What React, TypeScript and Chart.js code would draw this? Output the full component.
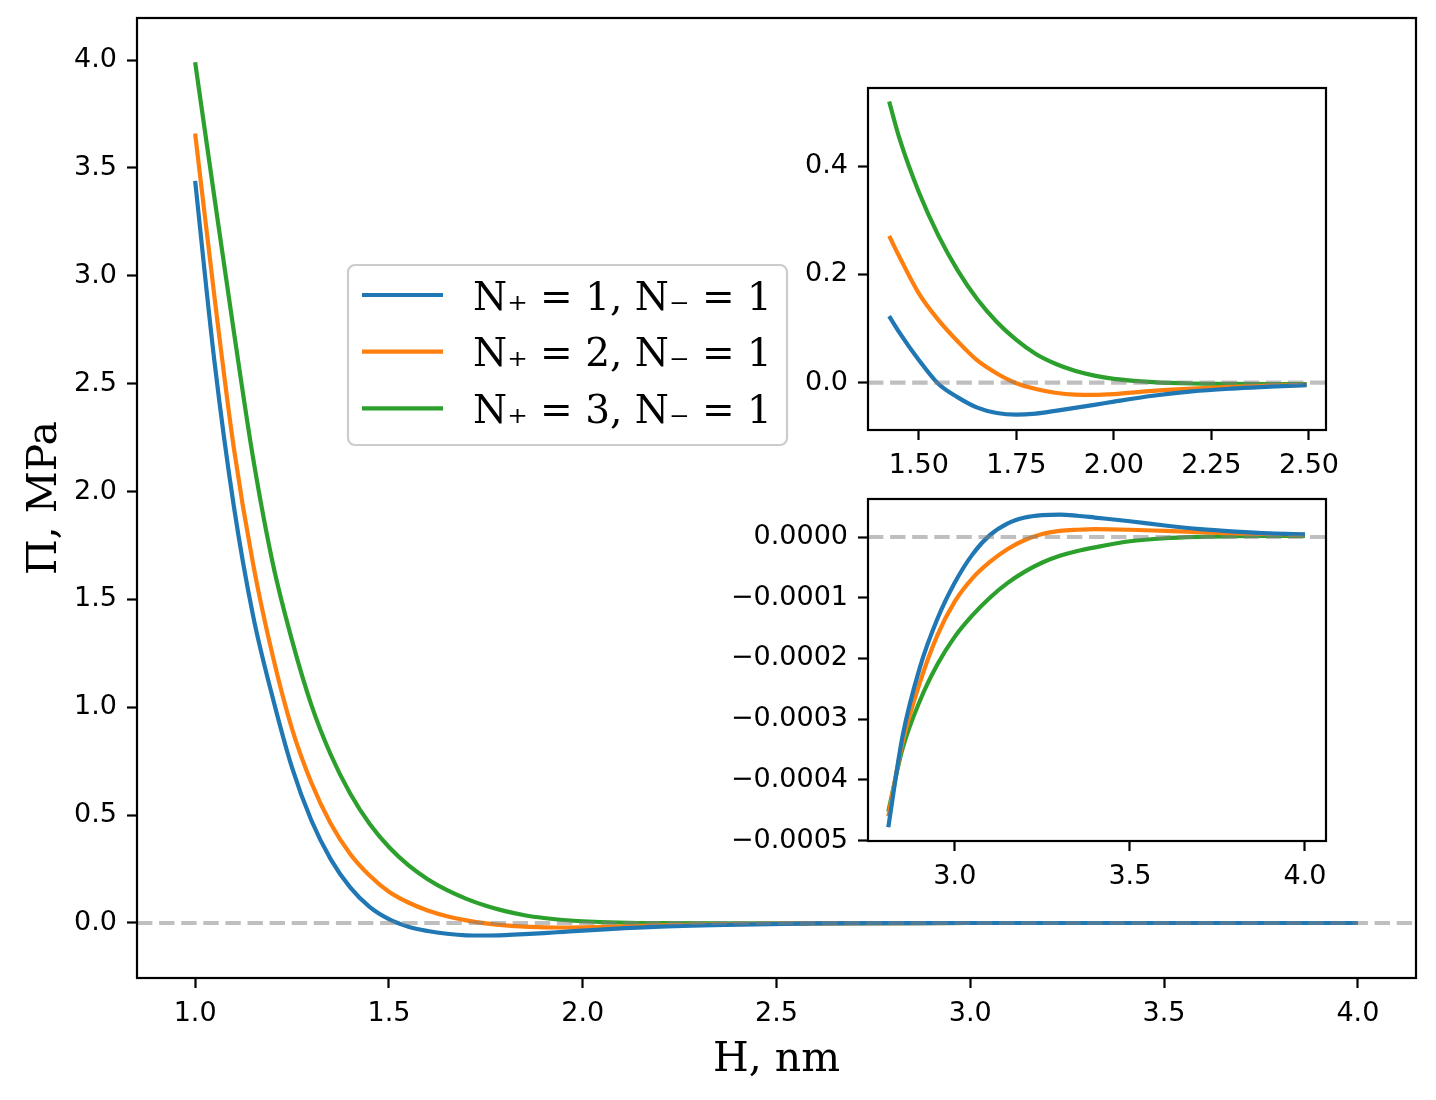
import { useEffect, useRef } from 'react';
import { Chart, registerables } from 'chart.js';

Chart.register(...registerables);

// ---- main panel: disjoining pressure vs gap width ----
const mainH = [1.0, 1.05, 1.1, 1.15, 1.2, 1.25, 1.3, 1.35, 1.4, 1.45, 1.5, 1.55, 1.6, 1.65, 1.7, 1.75, 1.8, 1.85, 1.9, 1.95, 2.0, 2.2, 2.4, 2.6, 2.8, 3.0, 3.2, 3.4, 3.6, 3.8, 4.0];
const mainN1 = [3.44, 2.6, 1.93, 1.42, 1.045, 0.72, 0.475, 0.295, 0.165, 0.075, 0.018, -0.017, -0.037, -0.05, -0.057, -0.058, -0.056, -0.052, -0.047, -0.041, -0.035, -0.017, -0.0075, -0.0022, -0.0005, -0.00008, 0.00003, 0.000033, 0.000019, 0.000009, 0.0000045];
const mainN2 = [3.66, 2.9, 2.2, 1.66, 1.24, 0.9, 0.65, 0.46, 0.32, 0.22, 0.145, 0.095, 0.058, 0.031, 0.012, -0.002, -0.011, -0.017, -0.02, -0.021, -0.02, -0.011, -0.0055, -0.002, -0.00046, -0.0001, 0.0, 0.000013, 0.00001, 0.0000055, 0.000004];
const mainN3 = [3.99, 3.36, 2.74, 2.15, 1.67, 1.31, 1.01, 0.78, 0.6, 0.46, 0.352, 0.268, 0.203, 0.152, 0.112, 0.08, 0.055, 0.036, 0.023, 0.014, 0.008, -0.001, -0.0022, -0.0014, -0.00045, -0.00016, -0.00005, -0.000011, 0.0, 0.000002, 0.000002];

// ---- upper inset ----
const inset1H = [1.424, 1.45, 1.5, 1.55, 1.6, 1.65, 1.7, 1.75, 1.8, 1.85, 1.9, 1.95, 2.0, 2.1, 2.2, 2.3, 2.4, 2.494];
const inset1N1 = [0.123, 0.093, 0.042, -0.002, -0.027, -0.046, -0.056, -0.059, -0.057, -0.052, -0.0465, -0.041, -0.035, -0.024, -0.016, -0.011, -0.0074, -0.0043];
const inset1N2 = [0.271, 0.233, 0.165, 0.116, 0.076, 0.041, 0.017, -0.001, -0.0115, -0.0185, -0.022, -0.0225, -0.021, -0.015, -0.011, -0.0078, -0.0055, -0.004];
const inset1N3 = [0.519, 0.452, 0.352, 0.272, 0.207, 0.154, 0.112, 0.079, 0.053, 0.035, 0.022, 0.013, 0.007, 0.001, -0.0015, -0.0022, -0.0024, -0.0025];

// ---- lower inset ----
const inset2H = [2.81, 2.85, 2.9, 2.95, 3.0, 3.05, 3.1, 3.15, 3.2, 3.25, 3.3, 3.35, 3.4, 3.5, 3.6, 3.7, 3.8, 3.9, 4.0];
const inset2N1 = [-0.000478, -0.00033, -0.000215, -0.000135, -0.000075, -0.000029, 0.000003, 0.000022, 0.000032, 0.000036, 0.000037, 0.000035, 0.000032, 0.000026, 0.000019, 0.000013, 0.000009, 0.000006, 0.0000045];
const inset2N2 = [-0.00046, -0.00034, -0.00024, -0.000162, -0.000106, -0.000068, -0.000041, -0.00002, -0.000005, 0.000005, 0.00001, 0.000012, 0.000013, 0.000012, 0.00001, 0.000008, 0.000006, 0.000005, 0.000004];
const inset2N3 = [-0.000452, -0.00035, -0.00027, -0.00021, -0.000164, -0.000129, -0.0001, -0.000076, -0.000057, -0.000042, -0.000031, -0.000023, -0.000017, -0.000007, -0.000002, 0.0000003, 0.0000014, 0.0000018, 0.000002];

const seriesLabels = ['N₊ = 1, N₋ = 1', 'N₊ = 2, N₋ = 1', 'N₊ = 3, N₋ = 1'];
const seriesColors = ['#1f77b4', '#ff7f0e', '#2ca02c'];

const mainXTicks = [1.0, 1.5, 2.0, 2.5, 3.0, 3.5, 4.0];
const mainXLabels = ['1.0', '1.5', '2.0', '2.5', '3.0', '3.5', '4.0'];
const mainYTicks = [0, 0.5, 1.0, 1.5, 2.0, 2.5, 3.0, 3.5, 4.0];
const mainYLabels = ['0.0', '0.5', '1.0', '1.5', '2.0', '2.5', '3.0', '3.5', '4.0'];

const inset1XTicks = [1.5, 1.75, 2.0, 2.25, 2.5];
const inset1XLabels = ['1.50', '1.75', '2.00', '2.25', '2.50'];
const inset1YTicks = [0, 0.2, 0.4];
const inset1YLabels = ['0.0', '0.2', '0.4'];

const inset2XTicks = [3.0, 3.5, 4.0];
const inset2XLabels = ['3.0', '3.5', '4.0'];
const inset2YTicks = [-0.0005, -0.0004, -0.0003, -0.0002, -0.0001, 0];
const inset2YLabels = ['−0.0005', '−0.0004', '−0.0003', '−0.0002', '−0.0001', '0.0000'];

const W = 1436;
const H = 1100;
const TICK_FONT = { family: 'DejaVu Sans', size: 27 };
const LABEL_FONT = { family: 'DejaVu Serif', size: 41 };

interface Area { left: number; top: number; right: number; bottom: number }

interface PanelProps {
  xs: number[];
  series: number[][];
  xRange: [number, number];
  yRange: [number, number];
  xTicks: number[];
  xLabels: string[];
  yTicks: number[];
  yLabels: string[];
  area: Area;
  yAxisWidth: number;
  xAxisHeight: number;
  xTitle?: string;
  yTitle?: string;
  legend?: boolean;
}

// white axes face, dashed zero line, black frame
const decorPlugin = {
  id: 'decor',
  beforeDatasetsDraw(chart: any) {
    const { ctx, chartArea: a } = chart;
    ctx.save();
    ctx.fillStyle = '#ffffff';
    ctx.fillRect(a.left, a.top, a.right - a.left, a.bottom - a.top);
    ctx.restore();
  },
  afterDatasetsDraw(chart: any) {
    const { ctx, chartArea: a } = chart;
    const y0 = chart.scales.y.getPixelForValue(0);
    ctx.save();
    ctx.strokeStyle = 'rgba(128,128,128,0.5)';
    ctx.lineWidth = 4.2;
    ctx.setLineDash([15.4, 6.7]);
    ctx.beginPath();
    ctx.moveTo(a.left, y0);
    ctx.lineTo(a.right, y0);
    ctx.stroke();
    ctx.setLineDash([]);
    ctx.strokeStyle = '#000000';
    ctx.lineWidth = 2.2;
    ctx.strokeRect(a.left, a.top, a.right - a.left, a.bottom - a.top);
    ctx.restore();
  },
};

// matplotlib-like legend box inside the main axes
const legendPlugin = {
  id: 'boxLegend',
  afterDraw(chart: any) {
    const { ctx } = chart;
    const bx = 348, by = 265, bw = 439, bh = 180, r = 7;
    ctx.save();
    ctx.beginPath();
    ctx.moveTo(bx + r, by);
    ctx.arcTo(bx + bw, by, bx + bw, by + bh, r);
    ctx.arcTo(bx + bw, by + bh, bx, by + bh, r);
    ctx.arcTo(bx, by + bh, bx, by, r);
    ctx.arcTo(bx, by, bx + bw, by, r);
    ctx.closePath();
    ctx.fillStyle = 'rgba(255,255,255,0.8)';
    ctx.fill();
    ctx.strokeStyle = '#cccccc';
    ctx.lineWidth = 2.2;
    ctx.stroke();
    chart.data.datasets.forEach((ds: any, i: number) => {
      const rowY = 295 + i * 56.7;
      ctx.strokeStyle = ds.borderColor;
      ctx.lineWidth = 4.2;
      ctx.beginPath();
      ctx.moveTo(362, rowY);
      ctx.lineTo(443, rowY);
      ctx.stroke();
      ctx.fillStyle = '#000000';
      ctx.font = '39px "DejaVu Serif"';
      ctx.textAlign = 'left';
      ctx.textBaseline = 'alphabetic';
      ctx.fillText(ds.label, 473, rowY + 14.5);
    });
    ctx.restore();
  },
};

function Panel(props: PanelProps) {
  const canvasRef = useRef<HTMLCanvasElement>(null);
  const chartRef = useRef<Chart | null>(null);

  useEffect(() => {
    if (!canvasRef.current) return;
    const ctx = canvasRef.current.getContext('2d');
    if (!ctx) return;
    const p = props;

    chartRef.current = new Chart(ctx, {
      type: 'line',
      data: {
        datasets: p.series.map((ys, i) => ({
          label: seriesLabels[i],
          data: p.xs.map((x, j) => ({ x, y: ys[j] })),
          borderColor: seriesColors[i],
          backgroundColor: seriesColors[i],
          borderWidth: 4.2,
          pointRadius: 0,
          pointHoverRadius: 0,
          cubicInterpolationMode: 'monotone',
          fill: false,
        })),
      },
      options: {
        responsive: false,
        animation: false,
        devicePixelRatio: 1,
        events: [],
        layout: {
          padding: {
            left: p.area.left - p.yAxisWidth,
            top: p.area.top,
            right: W - p.area.right,
            bottom: H - p.area.bottom - p.xAxisHeight,
          },
        },
        plugins: {
          legend: { display: false },
          tooltip: { enabled: false },
        },
        scales: {
          x: {
            type: 'linear',
            min: p.xRange[0],
            max: p.xRange[1],
            afterFit: (s: any) => {
              s.height = p.xAxisHeight;
              s.paddingLeft = 0;
              s.paddingRight = 0;
            },
            afterBuildTicks: (s: any) => { s.ticks = p.xTicks.map(v => ({ value: v })); },
            ticks: {
              autoSkip: false,
              maxRotation: 0,
              padding: 10,
              color: '#000000',
              font: TICK_FONT,
              callback: (_v: any, i: number) => p.xLabels[i],
            },
            grid: { drawOnChartArea: false, drawTicks: true, tickLength: 10, tickWidth: 2.2, tickColor: '#000000' },
            border: { display: false },
            title: {
              display: !!p.xTitle,
              text: p.xTitle || '',
              color: '#000000',
              font: LABEL_FONT,
              padding: { top: 0, bottom: 15 },
            },
          },
          y: {
            type: 'linear',
            min: p.yRange[0],
            max: p.yRange[1],
            afterFit: (s: any) => {
              s.width = p.yAxisWidth;
              s.paddingTop = 0;
              s.paddingBottom = 0;
            },
            afterBuildTicks: (s: any) => { s.ticks = p.yTicks.map(v => ({ value: v })); },
            ticks: {
              autoSkip: false,
              padding: 10,
              color: '#000000',
              font: TICK_FONT,
              callback: (_v: any, i: number) => p.yLabels[i],
            },
            grid: { drawOnChartArea: false, drawTicks: true, tickLength: 10, tickWidth: 2.2, tickColor: '#000000' },
            border: { display: false },
            title: {
              display: !!p.yTitle,
              text: p.yTitle || '',
              color: '#000000',
              font: LABEL_FONT,
              padding: { top: 21, bottom: 0 },
            },
          },
        },
      } as any,
      plugins: p.legend ? [decorPlugin, legendPlugin] : [decorPlugin],
    });

    return () => {
      if (chartRef.current) {
        chartRef.current.destroy();
        chartRef.current = null;
      }
    };
  }, []);

  return (
    <canvas
      ref={canvasRef}
      width={W}
      height={H}
      style={{ position: 'absolute', left: 0, top: 0, width: W, height: H }}
    />
  );
}

export default function App() {
  return (
    <div style={{ position: 'absolute', left: 0, top: 0, width: W, height: H, background: '#ffffff' }}>
      <Panel
        xs={mainH}
        series={[mainN1, mainN2, mainN3]}
        xRange={[0.85, 4.15]}
        yRange={[-0.255, 4.195]}
        xTicks={mainXTicks}
        xLabels={mainXLabels}
        yTicks={mainYTicks}
        yLabels={mainYLabels}
        area={{ left: 137, top: 18, right: 1416, bottom: 978 }}
        yAxisWidth={137}
        xAxisHeight={122}
        xTitle="H, nm"
        yTitle="Π, MPa"
        legend
      />
      <Panel
        xs={inset1H}
        series={[inset1N1, inset1N2, inset1N3]}
        xRange={[1.3698, 2.5437]}
        yRange={[-0.0873, 0.544]}
        xTicks={inset1XTicks}
        xLabels={inset1XLabels}
        yTicks={inset1YTicks}
        yLabels={inset1YLabels}
        area={{ left: 868, top: 88, right: 1326, bottom: 430 }}
        yAxisWidth={110}
        xAxisHeight={60}
      />
      <Panel
        xs={inset2H}
        series={[inset2N1, inset2N2, inset2N3]}
        xRange={[2.752, 4.06]}
        yRange={[-0.0005006, 0.0000626]}
        xTicks={inset2XTicks}
        xLabels={inset2XLabels}
        yTicks={inset2YTicks}
        yLabels={inset2YLabels}
        area={{ left: 868, top: 499, right: 1326, bottom: 841 }}
        yAxisWidth={160}
        xAxisHeight={60}
      />
    </div>
  );
}
